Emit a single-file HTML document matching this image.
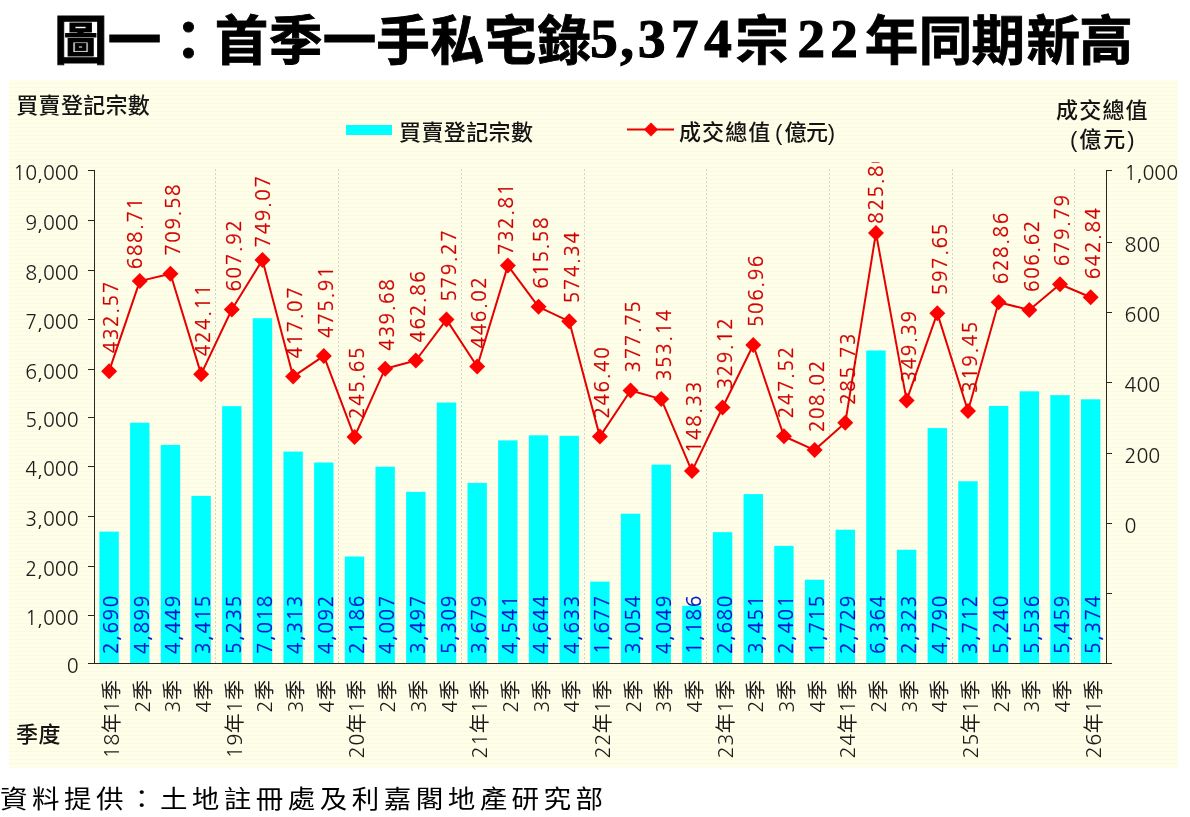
<!DOCTYPE html>
<html><head><meta charset="utf-8"><title>圖一：首季一手私宅錄5,374宗22年同期新高</title>
<style>
html,body{margin:0;padding:0;background:#fff;width:1190px;height:817px;overflow:hidden}
svg{display:block}
.ax{font-family:"NanumGothic","Liberation Sans",sans-serif;font-size:19.6px;fill:#1c1c1c}
.cj{font-family:"Liberation Sans","Noto Sans CJK TC",sans-serif;font-size:22px;fill:#141414;font-weight:500}
.rl{font-family:"NanumGothic","Liberation Sans",sans-serif;font-size:19px;fill:#d00000;letter-spacing:1.6px;stroke:#d00000;stroke-width:0.3px}
.bl{font-family:"NanumGothic","Liberation Sans",sans-serif;font-size:19px;fill:#0014d0;letter-spacing:1.6px;stroke:#0014d0;stroke-width:0.3px}
.ct{font-family:"NanumGothic","Noto Sans CJK TC",sans-serif;font-size:20px;fill:#1c1c1c;letter-spacing:0.5px}
.tc{font-family:"Liberation Sans","Noto Sans CJK TC",sans-serif;font-size:53.5px;font-weight:700;fill:#000;stroke:#000;stroke-width:0.9px}
.td{font-family:"Liberation Serif",serif;font-size:55px;font-weight:700;fill:#000;stroke:#000;stroke-width:1.2px}
.src{font-family:"Liberation Sans","Noto Sans CJK TC",sans-serif;font-size:25.5px;fill:#000;letter-spacing:4.13px}
</style></head><body>
<svg width="1190" height="817" viewBox="0 0 1190 817">
<defs>
<pattern id="st" width="8" height="4" patternUnits="userSpaceOnUse"><rect width="8" height="4" fill="#fffee8"/><rect y="3" width="8" height="1" fill="#fafae2"/></pattern>
<clipPath id="cl"><rect x="9" y="162" width="1169" height="605"/></clipPath>
</defs>
<rect x="0" y="0" width="1190" height="817" fill="#fff"/>
<rect x="9" y="80" width="1169" height="687.5" fill="url(#st)"/>
<text class="tc" x="80.75" y="60" text-anchor="middle">圖</text>
<text class="tc" x="134.5" y="60" text-anchor="middle">一</text>
<text class="tc" x="188.4" y="60" text-anchor="middle">：</text>
<text class="tc" x="241.6" y="60" text-anchor="middle">首</text>
<text class="tc" x="295.8" y="60" text-anchor="middle">季</text>
<text class="tc" x="349.6" y="60" text-anchor="middle">一</text>
<text class="tc" x="403.1" y="60" text-anchor="middle">手</text>
<text class="tc" x="457.2" y="60" text-anchor="middle">私</text>
<text class="tc" x="510.25" y="60" text-anchor="middle">宅</text>
<text class="tc" x="564.3" y="60" text-anchor="middle">錄</text>
<text class="td" x="604" y="57.4" text-anchor="middle">5</text>
<text class="td" x="627" y="57.4" text-anchor="middle">,</text>
<text class="td" x="651.8" y="57.4" text-anchor="middle">3</text>
<text class="td" x="684.7" y="57.4" text-anchor="middle">7</text>
<text class="td" x="718" y="57.4" text-anchor="middle">4</text>
<text class="tc" x="762.1" y="60" text-anchor="middle">宗</text>
<text class="td" x="811.3" y="57.4" text-anchor="middle">2</text>
<text class="td" x="844" y="57.4" text-anchor="middle">2</text>
<text class="tc" x="891.5" y="60" text-anchor="middle">年</text>
<text class="tc" x="945.5" y="60" text-anchor="middle">同</text>
<text class="tc" x="998.2" y="60" text-anchor="middle">期</text>
<text class="tc" x="1053.2" y="60" text-anchor="middle">新</text>
<text class="tc" x="1105.9" y="60" text-anchor="middle">高</text>
<line x1="215.5" y1="169" x2="215.5" y2="663" stroke="#d6d4c6" stroke-width="1" stroke-dasharray="2,2"/>
<line x1="338.5" y1="169" x2="338.5" y2="663" stroke="#d6d4c6" stroke-width="1" stroke-dasharray="2,2"/>
<line x1="461.5" y1="169" x2="461.5" y2="663" stroke="#d6d4c6" stroke-width="1" stroke-dasharray="2,2"/>
<line x1="584.5" y1="169" x2="584.5" y2="663" stroke="#d6d4c6" stroke-width="1" stroke-dasharray="2,2"/>
<line x1="706.5" y1="169" x2="706.5" y2="663" stroke="#d6d4c6" stroke-width="1" stroke-dasharray="2,2"/>
<line x1="829.5" y1="169" x2="829.5" y2="663" stroke="#d6d4c6" stroke-width="1" stroke-dasharray="2,2"/>
<line x1="952.5" y1="169" x2="952.5" y2="663" stroke="#d6d4c6" stroke-width="1" stroke-dasharray="2,2"/>
<line x1="1074.5" y1="169" x2="1074.5" y2="663" stroke="#d6d4c6" stroke-width="1" stroke-dasharray="2,2"/>
<rect x="99.40" y="531.66" width="19.4" height="132.34" fill="#00ffff"/>
<rect x="130.07" y="422.73" width="19.4" height="241.27" fill="#00ffff"/>
<rect x="160.75" y="444.92" width="19.4" height="219.08" fill="#00ffff"/>
<rect x="191.42" y="495.91" width="19.4" height="168.09" fill="#00ffff"/>
<rect x="222.10" y="406.16" width="19.4" height="257.84" fill="#00ffff"/>
<rect x="252.77" y="318.24" width="19.4" height="345.76" fill="#00ffff"/>
<rect x="283.44" y="451.63" width="19.4" height="212.37" fill="#00ffff"/>
<rect x="314.12" y="462.52" width="19.4" height="201.48" fill="#00ffff"/>
<rect x="344.79" y="556.51" width="19.4" height="107.49" fill="#00ffff"/>
<rect x="375.47" y="466.71" width="19.4" height="197.29" fill="#00ffff"/>
<rect x="406.14" y="491.86" width="19.4" height="172.14" fill="#00ffff"/>
<rect x="436.81" y="402.51" width="19.4" height="261.49" fill="#00ffff"/>
<rect x="467.49" y="482.89" width="19.4" height="181.11" fill="#00ffff"/>
<rect x="498.16" y="440.38" width="19.4" height="223.62" fill="#00ffff"/>
<rect x="528.84" y="435.30" width="19.4" height="228.70" fill="#00ffff"/>
<rect x="559.51" y="435.85" width="19.4" height="228.15" fill="#00ffff"/>
<rect x="590.18" y="581.61" width="19.4" height="82.39" fill="#00ffff"/>
<rect x="620.86" y="513.71" width="19.4" height="150.29" fill="#00ffff"/>
<rect x="651.53" y="464.64" width="19.4" height="199.36" fill="#00ffff"/>
<rect x="682.21" y="605.82" width="19.4" height="58.18" fill="#00ffff"/>
<rect x="712.88" y="532.15" width="19.4" height="131.85" fill="#00ffff"/>
<rect x="743.55" y="494.13" width="19.4" height="169.87" fill="#00ffff"/>
<rect x="774.23" y="545.91" width="19.4" height="118.09" fill="#00ffff"/>
<rect x="804.90" y="579.73" width="19.4" height="84.27" fill="#00ffff"/>
<rect x="835.58" y="529.73" width="19.4" height="134.27" fill="#00ffff"/>
<rect x="866.25" y="350.49" width="19.4" height="313.51" fill="#00ffff"/>
<rect x="896.92" y="549.75" width="19.4" height="114.25" fill="#00ffff"/>
<rect x="927.60" y="428.11" width="19.4" height="235.89" fill="#00ffff"/>
<rect x="958.27" y="481.26" width="19.4" height="182.74" fill="#00ffff"/>
<rect x="988.95" y="405.92" width="19.4" height="258.08" fill="#00ffff"/>
<rect x="1019.62" y="391.32" width="19.4" height="272.68" fill="#00ffff"/>
<rect x="1050.29" y="395.12" width="19.4" height="268.88" fill="#00ffff"/>
<rect x="1080.97" y="399.31" width="19.4" height="264.69" fill="#00ffff"/>
<path d="M94.5 170V664M88 663.5H1112M1106.5 170V664" stroke="#26261e" stroke-width="1" fill="none"/>
<line x1="88" y1="663.5" x2="94.5" y2="663.5" stroke="#26261e"/>
<line x1="88" y1="615.5" x2="94.5" y2="615.5" stroke="#26261e"/>
<line x1="88" y1="566.5" x2="94.5" y2="566.5" stroke="#26261e"/>
<line x1="88" y1="516.5" x2="94.5" y2="516.5" stroke="#26261e"/>
<line x1="88" y1="466.5" x2="94.5" y2="466.5" stroke="#26261e"/>
<line x1="88" y1="417.5" x2="94.5" y2="417.5" stroke="#26261e"/>
<line x1="88" y1="369.5" x2="94.5" y2="369.5" stroke="#26261e"/>
<line x1="88" y1="319.5" x2="94.5" y2="319.5" stroke="#26261e"/>
<line x1="88" y1="270.5" x2="94.5" y2="270.5" stroke="#26261e"/>
<line x1="88" y1="220.5" x2="94.5" y2="220.5" stroke="#26261e"/>
<line x1="88" y1="170.5" x2="94.5" y2="170.5" stroke="#26261e"/>
<line x1="1106.5" y1="170.5" x2="1112" y2="170.5" stroke="#26261e"/>
<line x1="1106.5" y1="242.5" x2="1112" y2="242.5" stroke="#26261e"/>
<line x1="1106.5" y1="312.5" x2="1112" y2="312.5" stroke="#26261e"/>
<line x1="1106.5" y1="382.5" x2="1112" y2="382.5" stroke="#26261e"/>
<line x1="1106.5" y1="453.5" x2="1112" y2="453.5" stroke="#26261e"/>
<line x1="1106.5" y1="523.5" x2="1112" y2="523.5" stroke="#26261e"/>
<line x1="1106.5" y1="593.5" x2="1112" y2="593.5" stroke="#26261e"/>
<line x1="1106.5" y1="663.5" x2="1112" y2="663.5" stroke="#26261e"/>
<text class="ax" x="78.6" y="673.0" text-anchor="end">0</text>
<text class="ax" x="78.6" y="625.0" text-anchor="end">1,000</text>
<text class="ax" x="78.6" y="576.0" text-anchor="end">2,000</text>
<text class="ax" x="78.6" y="526.0" text-anchor="end">3,000</text>
<text class="ax" x="78.6" y="476.0" text-anchor="end">4,000</text>
<text class="ax" x="78.6" y="427.0" text-anchor="end">5,000</text>
<text class="ax" x="78.6" y="379.0" text-anchor="end">6,000</text>
<text class="ax" x="78.6" y="329.0" text-anchor="end">7,000</text>
<text class="ax" x="78.6" y="280.0" text-anchor="end">8,000</text>
<text class="ax" x="78.6" y="230.0" text-anchor="end">9,000</text>
<text class="ax" x="78.6" y="180.0" text-anchor="end">10,000</text>
<text class="ax" x="1124.5" y="180.0" style="font-size:19.7px">1,000</text>
<text class="ax" x="1124.5" y="252.0" style="font-size:19.7px">800</text>
<text class="ax" x="1124.5" y="322.0" style="font-size:19.7px">600</text>
<text class="ax" x="1124.5" y="392.0" style="font-size:19.7px">400</text>
<text class="ax" x="1124.5" y="463.0" style="font-size:19.7px">200</text>
<text class="ax" x="1124.5" y="533.0" style="font-size:19.7px">0</text>
<polyline points="109.10,371.17 139.77,281.12 170.45,273.79 201.12,374.14 231.80,309.53 262.47,259.90 293.14,376.62 323.82,355.93 354.49,436.88 385.17,368.67 415.84,360.52 446.51,319.60 477.19,366.44 507.86,265.62 538.54,306.83 569.21,321.33 599.88,436.62 630.56,390.44 661.23,399.09 691.91,471.09 722.58,407.54 753.25,345.02 783.93,436.22 814.60,450.11 845.28,422.79 875.95,232.93 906.62,400.41 937.30,313.14 967.97,410.94 998.65,302.16 1029.32,309.98 1059.99,284.26 1090.67,297.25" fill="none" stroke="#e60000" stroke-width="2" stroke-linejoin="round"/>
<path d="M109.10 363.17L117.10 371.17L109.10 379.17L101.10 371.17Z" fill="#ff0000"/>
<path d="M139.77 273.12L147.77 281.12L139.77 289.12L131.77 281.12Z" fill="#ff0000"/>
<path d="M170.45 265.79L178.45 273.79L170.45 281.79L162.45 273.79Z" fill="#ff0000"/>
<path d="M201.12 366.14L209.12 374.14L201.12 382.14L193.12 374.14Z" fill="#ff0000"/>
<path d="M231.80 301.53L239.80 309.53L231.80 317.53L223.80 309.53Z" fill="#ff0000"/>
<path d="M262.47 251.90L270.47 259.90L262.47 267.90L254.47 259.90Z" fill="#ff0000"/>
<path d="M293.14 368.62L301.14 376.62L293.14 384.62L285.14 376.62Z" fill="#ff0000"/>
<path d="M323.82 347.93L331.82 355.93L323.82 363.93L315.82 355.93Z" fill="#ff0000"/>
<path d="M354.49 428.88L362.49 436.88L354.49 444.88L346.49 436.88Z" fill="#ff0000"/>
<path d="M385.17 360.67L393.17 368.67L385.17 376.67L377.17 368.67Z" fill="#ff0000"/>
<path d="M415.84 352.52L423.84 360.52L415.84 368.52L407.84 360.52Z" fill="#ff0000"/>
<path d="M446.51 311.60L454.51 319.60L446.51 327.60L438.51 319.60Z" fill="#ff0000"/>
<path d="M477.19 358.44L485.19 366.44L477.19 374.44L469.19 366.44Z" fill="#ff0000"/>
<path d="M507.86 257.62L515.86 265.62L507.86 273.62L499.86 265.62Z" fill="#ff0000"/>
<path d="M538.54 298.83L546.54 306.83L538.54 314.83L530.54 306.83Z" fill="#ff0000"/>
<path d="M569.21 313.33L577.21 321.33L569.21 329.33L561.21 321.33Z" fill="#ff0000"/>
<path d="M599.88 428.62L607.88 436.62L599.88 444.62L591.88 436.62Z" fill="#ff0000"/>
<path d="M630.56 382.44L638.56 390.44L630.56 398.44L622.56 390.44Z" fill="#ff0000"/>
<path d="M661.23 391.09L669.23 399.09L661.23 407.09L653.23 399.09Z" fill="#ff0000"/>
<path d="M691.91 463.09L699.91 471.09L691.91 479.09L683.91 471.09Z" fill="#ff0000"/>
<path d="M722.58 399.54L730.58 407.54L722.58 415.54L714.58 407.54Z" fill="#ff0000"/>
<path d="M753.25 337.02L761.25 345.02L753.25 353.02L745.25 345.02Z" fill="#ff0000"/>
<path d="M783.93 428.22L791.93 436.22L783.93 444.22L775.93 436.22Z" fill="#ff0000"/>
<path d="M814.60 442.11L822.60 450.11L814.60 458.11L806.60 450.11Z" fill="#ff0000"/>
<path d="M845.28 414.79L853.28 422.79L845.28 430.79L837.28 422.79Z" fill="#ff0000"/>
<path d="M875.95 224.93L883.95 232.93L875.95 240.93L867.95 232.93Z" fill="#ff0000"/>
<path d="M906.62 392.41L914.62 400.41L906.62 408.41L898.62 400.41Z" fill="#ff0000"/>
<path d="M937.30 305.14L945.30 313.14L937.30 321.14L929.30 313.14Z" fill="#ff0000"/>
<path d="M967.97 402.94L975.97 410.94L967.97 418.94L959.97 410.94Z" fill="#ff0000"/>
<path d="M998.65 294.16L1006.65 302.16L998.65 310.16L990.65 302.16Z" fill="#ff0000"/>
<path d="M1029.32 301.98L1037.32 309.98L1029.32 317.98L1021.32 309.98Z" fill="#ff0000"/>
<path d="M1059.99 276.26L1067.99 284.26L1059.99 292.26L1051.99 284.26Z" fill="#ff0000"/>
<path d="M1090.67 289.25L1098.67 297.25L1090.67 305.25L1082.67 297.25Z" fill="#ff0000"/>
<g clip-path="url(#cl)">
<text class="rl" transform="translate(118.40,353.17) rotate(-90)">432.57</text>
<text class="rl" transform="translate(142.17,269.22) rotate(-90)">688.71</text>
<text class="rl" transform="translate(179.75,255.79) rotate(-90)">709.58</text>
<text class="rl" transform="translate(210.42,356.14) rotate(-90)">424.11</text>
<text class="rl" transform="translate(241.10,291.53) rotate(-90)">607.92</text>
<text class="rl" transform="translate(270.37,247.40) rotate(-90)">749.07</text>
<text class="rl" transform="translate(302.44,358.62) rotate(-90)">417.07</text>
<text class="rl" transform="translate(333.12,337.93) rotate(-90)">475.91</text>
<text class="rl" transform="translate(363.79,418.88) rotate(-90)">245.65</text>
<text class="rl" transform="translate(394.47,350.67) rotate(-90)">439.68</text>
<text class="rl" transform="translate(425.14,342.52) rotate(-90)">462.86</text>
<text class="rl" transform="translate(455.81,301.60) rotate(-90)">579.27</text>
<text class="rl" transform="translate(486.49,348.44) rotate(-90)">446.02</text>
<text class="rl" transform="translate(513.36,255.12) rotate(-90)">732.81</text>
<text class="rl" transform="translate(547.84,288.83) rotate(-90)">615.58</text>
<text class="rl" transform="translate(578.51,303.33) rotate(-90)">574.34</text>
<text class="rl" transform="translate(609.18,418.62) rotate(-90)">246.40</text>
<text class="rl" transform="translate(639.86,372.44) rotate(-90)">377.75</text>
<text class="rl" transform="translate(670.53,381.09) rotate(-90)">353.14</text>
<text class="rl" transform="translate(701.21,453.09) rotate(-90)">148.33</text>
<text class="rl" transform="translate(731.88,389.54) rotate(-90)">329.12</text>
<text class="rl" transform="translate(762.55,327.02) rotate(-90)">506.96</text>
<text class="rl" transform="translate(793.23,418.22) rotate(-90)">247.52</text>
<text class="rl" transform="translate(823.90,432.11) rotate(-90)">208.02</text>
<text class="rl" transform="translate(854.58,404.79) rotate(-90)">285.73</text>
<text class="rl" transform="translate(883.25,223.63) rotate(-90)">825.80</text>
<text class="rl" transform="translate(915.92,382.41) rotate(-90)">349.39</text>
<text class="rl" transform="translate(946.60,295.14) rotate(-90)">597.65</text>
<text class="rl" transform="translate(977.27,392.94) rotate(-90)">319.45</text>
<text class="rl" transform="translate(1007.95,284.16) rotate(-90)">628.86</text>
<text class="rl" transform="translate(1038.62,291.98) rotate(-90)">606.62</text>
<text class="rl" transform="translate(1069.29,266.26) rotate(-90)">679.79</text>
<text class="rl" transform="translate(1099.97,279.25) rotate(-90)">642.84</text>
</g>
<text class="bl" transform="translate(118.40,654.00) rotate(-90)">2,690</text>
<text class="bl" transform="translate(149.07,654.00) rotate(-90)">4,899</text>
<text class="bl" transform="translate(179.75,654.00) rotate(-90)">4,449</text>
<text class="bl" transform="translate(210.42,654.00) rotate(-90)">3,415</text>
<text class="bl" transform="translate(241.10,654.00) rotate(-90)">5,235</text>
<text class="bl" transform="translate(271.77,654.00) rotate(-90)">7,018</text>
<text class="bl" transform="translate(302.44,654.00) rotate(-90)">4,313</text>
<text class="bl" transform="translate(333.12,654.00) rotate(-90)">4,092</text>
<text class="bl" transform="translate(363.79,654.00) rotate(-90)">2,186</text>
<text class="bl" transform="translate(394.47,654.00) rotate(-90)">4,007</text>
<text class="bl" transform="translate(425.14,654.00) rotate(-90)">3,497</text>
<text class="bl" transform="translate(455.81,654.00) rotate(-90)">5,309</text>
<text class="bl" transform="translate(486.49,654.00) rotate(-90)">3,679</text>
<text class="bl" transform="translate(517.16,654.00) rotate(-90)">4,541</text>
<text class="bl" transform="translate(547.84,654.00) rotate(-90)">4,644</text>
<text class="bl" transform="translate(578.51,654.00) rotate(-90)">4,633</text>
<text class="bl" transform="translate(609.18,654.00) rotate(-90)">1,677</text>
<text class="bl" transform="translate(639.86,654.00) rotate(-90)">3,054</text>
<text class="bl" transform="translate(670.53,654.00) rotate(-90)">4,049</text>
<text class="bl" transform="translate(701.21,654.00) rotate(-90)">1,186</text>
<text class="bl" transform="translate(731.88,654.00) rotate(-90)">2,680</text>
<text class="bl" transform="translate(762.55,654.00) rotate(-90)">3,451</text>
<text class="bl" transform="translate(793.23,654.00) rotate(-90)">2,401</text>
<text class="bl" transform="translate(823.90,654.00) rotate(-90)">1,715</text>
<text class="bl" transform="translate(854.58,654.00) rotate(-90)">2,729</text>
<text class="bl" transform="translate(885.25,654.00) rotate(-90)">6,364</text>
<text class="bl" transform="translate(915.92,654.00) rotate(-90)">2,323</text>
<text class="bl" transform="translate(946.60,654.00) rotate(-90)">4,790</text>
<text class="bl" transform="translate(977.27,654.00) rotate(-90)">3,712</text>
<text class="bl" transform="translate(1007.95,654.00) rotate(-90)">5,240</text>
<text class="bl" transform="translate(1038.62,654.00) rotate(-90)">5,536</text>
<text class="bl" transform="translate(1069.29,654.00) rotate(-90)">5,459</text>
<text class="bl" transform="translate(1099.97,654.00) rotate(-90)">5,374</text>
<text class="ct" transform="translate(119.10,679.50) rotate(-90)" text-anchor="end">18年1季</text>
<text class="ct" transform="translate(149.77,679.50) rotate(-90)" text-anchor="end">2季</text>
<text class="ct" transform="translate(180.45,679.50) rotate(-90)" text-anchor="end">3季</text>
<text class="ct" transform="translate(211.12,679.50) rotate(-90)" text-anchor="end">4季</text>
<text class="ct" transform="translate(241.80,679.50) rotate(-90)" text-anchor="end">19年1季</text>
<text class="ct" transform="translate(272.47,679.50) rotate(-90)" text-anchor="end">2季</text>
<text class="ct" transform="translate(303.14,679.50) rotate(-90)" text-anchor="end">3季</text>
<text class="ct" transform="translate(333.82,679.50) rotate(-90)" text-anchor="end">4季</text>
<text class="ct" transform="translate(364.49,679.50) rotate(-90)" text-anchor="end">20年1季</text>
<text class="ct" transform="translate(395.17,679.50) rotate(-90)" text-anchor="end">2季</text>
<text class="ct" transform="translate(425.84,679.50) rotate(-90)" text-anchor="end">3季</text>
<text class="ct" transform="translate(456.51,679.50) rotate(-90)" text-anchor="end">4季</text>
<text class="ct" transform="translate(487.19,679.50) rotate(-90)" text-anchor="end">21年1季</text>
<text class="ct" transform="translate(517.86,679.50) rotate(-90)" text-anchor="end">2季</text>
<text class="ct" transform="translate(548.54,679.50) rotate(-90)" text-anchor="end">3季</text>
<text class="ct" transform="translate(579.21,679.50) rotate(-90)" text-anchor="end">4季</text>
<text class="ct" transform="translate(609.88,679.50) rotate(-90)" text-anchor="end">22年1季</text>
<text class="ct" transform="translate(640.56,679.50) rotate(-90)" text-anchor="end">2季</text>
<text class="ct" transform="translate(671.23,679.50) rotate(-90)" text-anchor="end">3季</text>
<text class="ct" transform="translate(701.91,679.50) rotate(-90)" text-anchor="end">4季</text>
<text class="ct" transform="translate(732.58,679.50) rotate(-90)" text-anchor="end">23年1季</text>
<text class="ct" transform="translate(763.25,679.50) rotate(-90)" text-anchor="end">2季</text>
<text class="ct" transform="translate(793.93,679.50) rotate(-90)" text-anchor="end">3季</text>
<text class="ct" transform="translate(824.60,679.50) rotate(-90)" text-anchor="end">4季</text>
<text class="ct" transform="translate(855.28,679.50) rotate(-90)" text-anchor="end">24年1季</text>
<text class="ct" transform="translate(885.95,679.50) rotate(-90)" text-anchor="end">2季</text>
<text class="ct" transform="translate(916.62,679.50) rotate(-90)" text-anchor="end">3季</text>
<text class="ct" transform="translate(947.30,679.50) rotate(-90)" text-anchor="end">4季</text>
<text class="ct" transform="translate(977.97,679.50) rotate(-90)" text-anchor="end">25年1季</text>
<text class="ct" transform="translate(1008.65,679.50) rotate(-90)" text-anchor="end">2季</text>
<text class="ct" transform="translate(1039.32,679.50) rotate(-90)" text-anchor="end">3季</text>
<text class="ct" transform="translate(1069.99,679.50) rotate(-90)" text-anchor="end">4季</text>
<text class="ct" transform="translate(1100.67,679.50) rotate(-90)" text-anchor="end">26年1季</text>
<text class="cj" x="16.3" y="113" style="letter-spacing:0.3px">買賣登記宗數</text>
<text class="cj" x="1056" y="117.5" style="letter-spacing:1.2px">成交總值</text>
<text class="cj" x="1070" y="147" style="letter-spacing:2px">(億元)</text>
<text class="cj" x="16" y="741.5" style="letter-spacing:0.6px">季度</text>
<text class="cj" x="399" y="139.5" style="letter-spacing:0.4px">買賣登記宗數</text>
<text class="cj" x="679" y="139.5" style="letter-spacing:1.1px">成交總值</text>
<text class="cj" x="775" y="139.5" style="letter-spacing:0px">(</text>
<text class="cj" x="784.5" y="139.5" style="letter-spacing:-0.4px">億元)</text>
<rect x="346" y="125" width="46" height="10" fill="#00ffff"/>
<line x1="627" y1="129.5" x2="674" y2="129.5" stroke="#e60000" stroke-width="2"/>
<path d="M651 122.5L658 129.5L651 136.5L644 129.5Z" fill="#ff0000"/>
<text class="src" transform="translate(0,808.3) scale(1.08,1)">資料提供：土地註冊處及利嘉閣地產研究部</text>
</svg></body></html>
